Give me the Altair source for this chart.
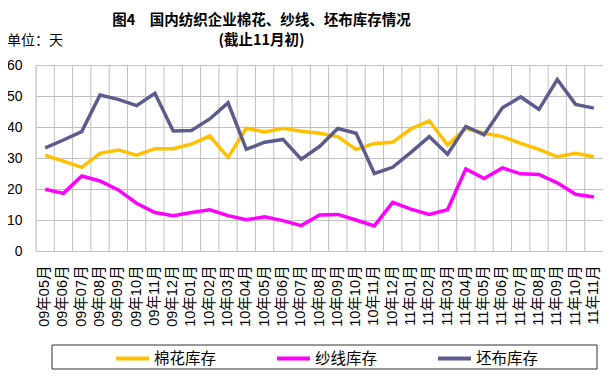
import altair as alt
import pandas as pd

months = ["09年05月", "09年06月", "09年07月", "09年08月", "09年09月", "09年10月", "09年11月", "09年12月",
          "10年01月", "10年02月", "10年03月", "10年04月", "10年05月", "10年06月", "10年07月", "10年08月",
          "10年09月", "10年10月", "10年11月", "10年12月",
          "11年01月", "11年02月", "11年03月", "11年04月", "11年05月", "11年06月", "11年07月", "11年08月",
          "11年09月", "11年10月", "11年11月"]

cotton = [30.9, 29.0, 27.0, 31.5, 32.6, 30.9, 33.0, 33.0, 34.5, 37.1, 30.2, 39.6, 38.4, 39.6, 38.6, 38.0,
          36.9, 32.8, 34.7, 35.1, 39.4, 42.0, 34.2, 39.5, 38.0, 36.9, 34.7, 32.8, 30.4, 31.5, 30.4]
yarn = [19.9, 18.6, 24.2, 22.6, 19.7, 15.4, 12.4, 11.4, 12.4, 13.3, 11.4, 10.1, 11.0, 9.8, 8.2, 11.6,
        11.8, 10.0, 8.1, 15.7, 13.5, 11.8, 13.3, 26.5, 23.4, 26.8, 24.9, 24.7, 22.0, 18.3, 17.4]
grey = [33.3, 35.8, 38.5, 50.3, 48.9, 46.9, 50.9, 38.7, 38.9, 42.6, 47.8, 32.8, 35.1, 36.0, 29.6, 33.7,
        39.5, 38.0, 25.0, 27.0, 31.8, 36.9, 31.2, 40.2, 37.5, 46.2, 49.7, 45.7, 55.3, 47.3, 46.1]

series = ["棉花库存", "纱线库存", "坯布库存"]
colors = ["#FFC000", "#FF00FF", "#5B5B8E"]

rows = []
for name, vals in zip(series, [cotton, yarn, grey]):
    for m, v in zip(months, vals):
        rows.append({"month": m, "series": name, "value": v})
df = pd.DataFrame(rows)
mdf = pd.DataFrame({"month": months})

xscale = alt.Scale(type="band", paddingInner=0, paddingOuter=0)
xaxis = alt.Axis(title=None, labelAngle=270, labelAlign="right", labelBaseline="middle",
                 labelPadding=14, ticks=False, domain=False, grid=False,
                 labelFontSize=14.5, labelColor="#000", labelFont="Liberation Sans, Noto Sans CJK SC")

grid = alt.Chart(mdf).mark_rule(color="#c0c0c0", strokeWidth=1).encode(
    x=alt.X("month:O", sort=months, scale=xscale, bandPosition=0, axis=xaxis)
)

lines = alt.Chart(df).mark_line(strokeWidth=3.5).encode(
    x=alt.X("month:O", sort=months, scale=xscale, bandPosition=0.5, axis=xaxis),
    y=alt.Y("value:Q", scale=alt.Scale(domain=[0, 60]),
            axis=alt.Axis(title=None, values=[0, 10, 20, 30, 40, 50, 60], grid=True, gridColor="#c0c0c0",
                          ticks=False, domain=False, labelPadding=14, labelFontSize=14,
                          labelColor="#000", labelFont="Liberation Sans")),
    color=alt.Color("series:N", sort=series,
                    scale=alt.Scale(domain=series, range=colors),
                    legend=alt.Legend(title=None, orient="none", legendX=78, legendY=275,
                                      direction="horizontal", symbolType="stroke", symbolSize=1089,
                                      symbolStrokeWidth=4, labelFontSize=15.5, labelOffset=3,
                                      columnPadding=52, padding=0, labelColor="#000",
                                      labelFont="Noto Sans CJK SC")),
    order=alt.Order("series:N")
)

frame = alt.Chart(alt.Data(values=[{}])).mark_rect(filled=False, stroke="#333", strokeWidth=1).encode(
    x=alt.value(16), x2=alt.value(561), y=alt.value(280), y2=alt.value(304)
)

unit = alt.Chart(alt.Data(values=[{"t": "单位：天"}])).mark_text(
    align="left", baseline="middle", fontSize=14, font="Noto Sans CJK SC", color="#000"
).encode(x=alt.value(-29), y=alt.value(-24), text="t:N")

chart = alt.layer(grid, lines, frame, unit).properties(
    width=567, height=186,
    title=alt.TitleParams(text="图4　国内纺织企业棉花、纱线、坯布库存情况",
                          subtitle="(截止11月初)",
                          fontSize=14.5, fontWeight="bold", font="Noto Sans CJK SC", color="#000",
                          subtitleFontSize=14.5, subtitleFontWeight="bold", subtitleFont="Noto Sans CJK SC",
                          subtitleColor="#000", subtitlePadding=5,
                          anchor="middle", frame="group", dx=-58, offset=-14),
    autosize=alt.AutoSizeParams(type="none"),
    padding={"left": 28, "top": 57, "right": 0, "bottom": 119}
).configure_view(stroke="#7f7f7f", strokeWidth=1.5).configure(font="Noto Sans CJK SC")

chart.save("out.html", embed_options={"renderer": "svg", "actions": False})
